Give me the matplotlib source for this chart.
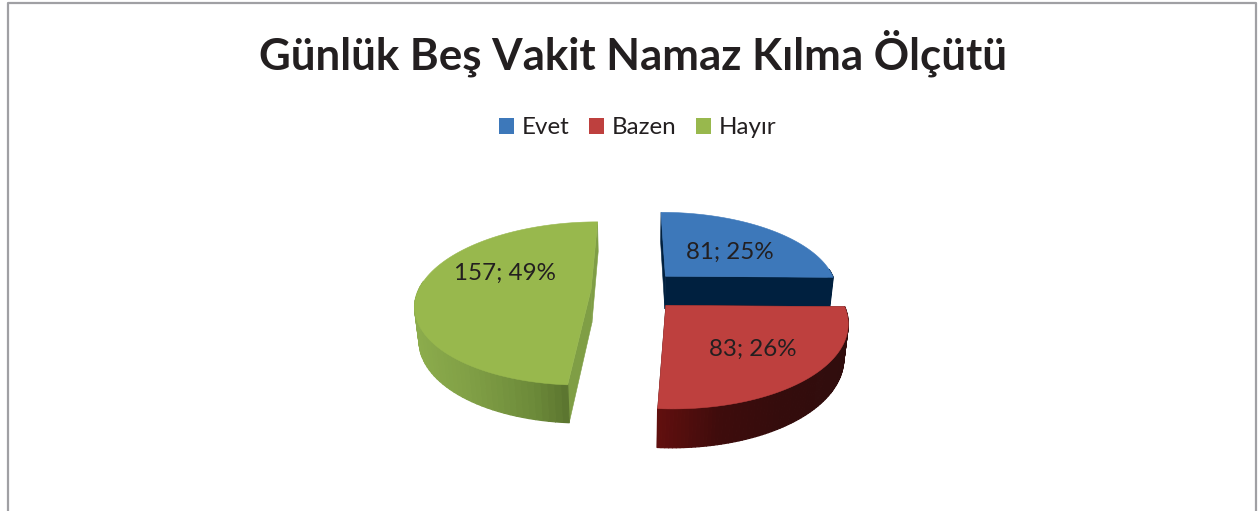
import numpy as np
import matplotlib
matplotlib.use('Agg')
import matplotlib.pyplot as plt
from matplotlib.collections import PolyCollection
from matplotlib.colors import LinearSegmentedColormap
from matplotlib.patches import Patch

title = 'Günlük Beş Vakit Namaz Kılma Ölçütü'
categories = ['Evet', 'Bazen', 'Hayır']
values = [81, 83, 157]

top_colors = ['#3D78BA', '#BE403E', '#98B84D']
cut_colors = ['#00203F', '#330C0C', '#7F9E45']
# side shading, left to right on screen
side_colors = [['#00203F', '#00203F'],
               ['#620F0E', '#3E0C0C', '#340C0C', '#300D0D'],
               ['#8CAC4C', '#7F9E45', '#6C8A39', '#4E6428']]
label_r = [0.55, 0.65, 0.46]
label_shift = [(5, 3), (-2, 0), (-7, -15)]
text_color = '#231F20'

plt.rcParams['font.family'] = ['Lato', 'DejaVu Sans']

# camera of the fake 3d pie, disc radius = 1
cx, cy = 635, 290
focal, dist = 880, 5.1
tilt = np.radians(27.4)
height = 0.222
explode = 0.255


def project(u, v, z=0.0):
    depth = dist + v * np.cos(tilt) - z * np.sin(tilt)
    sx = cx + focal * u / depth
    sy = cy - focal * (v * np.sin(tilt) + z * np.cos(tilt)) / depth
    return sx, sy


fig = plt.figure(figsize=(12.6, 5.11), dpi=100)
ax = fig.add_axes([0, 0, 1, 1])
ax.set_xlim(0, 1260)
ax.set_ylim(511, 0)
ax.axis('off')

# chart frame, open at the bottom
ax.plot([8, 8, 1256, 1256], [511, 3.5, 3.5, 511], color='#A0A0A4', lw=1.6)

ax.text(633, 53.5, title, ha='center', va='center', fontsize=31.6,
        fontweight='bold', color=text_color)

handles = [Patch(facecolor=c, label=n) for c, n in zip(top_colors, categories)]
ax.legend(handles=handles, ncol=3, loc='center', bbox_to_anchor=(637.5, 128),
          bbox_transform=ax.transData, frameon=False, fontsize=17.4,
          labelcolor=text_color, handlelength=0.65, handleheight=0.65,
          handletextpad=0.3, columnspacing=0.8, borderpad=0)

total = sum(values)
edges = np.concatenate([[0], np.cumsum(values)]) / total * 2 * np.pi

# back to front so nearer slices cover the others
for i in [2, 0, 1]:
    start, end = edges[i], edges[i + 1]
    mid = (start + end) / 2
    ou, ov = explode * np.sin(mid), explode * np.cos(mid)
    th = np.linspace(start, end, 91)
    arc_u = ou + np.sin(th)
    arc_v = ov + np.cos(th)

    # flat cut faces
    for ang in (start, end):
        eu, ev = ou + np.sin(ang), ov + np.cos(ang)
        pts = [project(ou, ov), project(eu, ev),
               project(eu, ev, -height), project(ou, ov, -height)]
        ax.fill(*zip(*pts), color=cut_colors[i], lw=0.4, zorder=2 + i)

    # outer wall, small facets for the gradient, only the part facing us
    sx0, sy0 = project(arc_u, arc_v)
    sx1, sy1 = project(arc_u, arc_v, -height)
    front = np.cos(th[:-1]) < 0.1
    quads = [[(sx0[k], sy0[k]), (sx0[k + 1], sy0[k + 1]),
              (sx1[k + 1], sy1[k + 1]), (sx1[k], sy1[k])]
             for k in np.flatnonzero(front)]
    cmap = LinearSegmentedColormap.from_list('side', side_colors[i])
    shades = cmap((sx1[:-1][front] - sx1.min()) / (sx1.max() - sx1.min()))
    ax.add_collection(PolyCollection(quads, facecolors=shades, edgecolors=shades,
                                     linewidths=0.9, zorder=2 + i))

    # top of the slice
    px = np.concatenate([[project(ou, ov)[0]], sx0])
    py = np.concatenate([[project(ou, ov)[1]], sy0])
    ax.fill(px, py, color=top_colors[i], lw=0.4, zorder=2 + i)

    lx, ly = project(ou + label_r[i] * np.sin(mid), ov + label_r[i] * np.cos(mid))
    ax.text(lx + label_shift[i][0], ly + label_shift[i][1],
            f'{values[i]}; {values[i] / total:.0%}', ha='center', va='center',
            fontsize=17.4, color=text_color, zorder=10)

fig.savefig('out.png', dpi=100)
